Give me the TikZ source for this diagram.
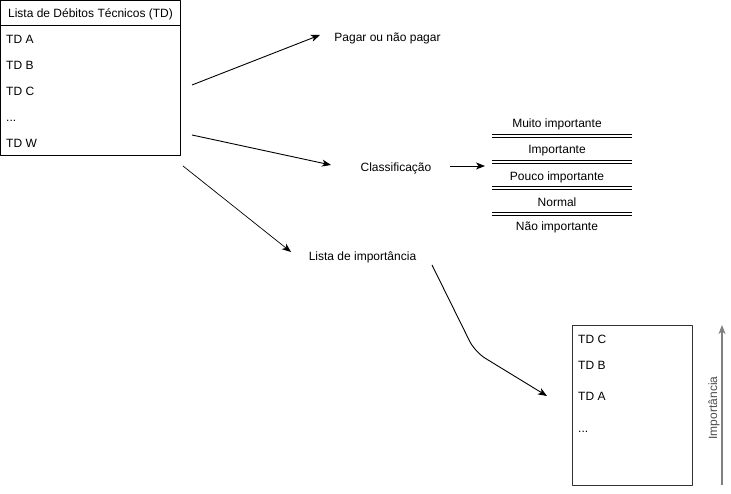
\documentclass[tikz,border=0pt]{standalone}
\usepackage{fontspec}
\setmainfont{Liberation Sans}
\usetikzlibrary{arrows.meta}
\begin{document}
\begin{tikzpicture}[>={Stealth[length=9bp,width=7bp,inset=2.5bp]},line join=bevel,x=1bp,y=1bp,
  txt/.style={inner sep=0pt,text height=12.5bp,text depth=2.5bp,font=\fontsize{12bp}{14bp}\selectfont},
  conn/.style={black,line width=0.9bp,->}]
\useasboundingbox (0,0) rectangle (731,494);
%%
\node (list_box) at (90.5,416.5) [draw,line width=0.9bp,minimum width=180bp,minimum height=155bp,inner sep=0pt] {};
  \draw [line width=0.9bp] (list_box.north west) ++(0,-26) -- ++(180,0);
  \node (list_head) at (90.5,481) [txt] {Lista de Débitos Técnicos (TD)};
  \node (td_a) at (6,455) [txt,anchor=west] {TD A};
  \node (td_b) at (6,429) [txt,anchor=west] {TD B};
  \node (td_c) at (6,403) [txt,anchor=west] {TD C};
  \node (td_dots) at (6,377) [txt,anchor=west] {...};
  \node (td_w) at (6,351) [txt,anchor=west] {TD W};
%%
\node (pay) at (387.5,457.5) [txt] {Pagar ou não pagar};
  \node (classif) at (396,327) [txt] {Classificação};
  \node (rank) at (362.5,238) [txt] {Lista de importância};
%%
\coordinate (pay_out) at (192,409);
  \coordinate (pay_in) at (320,459);
  \coordinate (classif_out) at (192,359);
  \coordinate (classif_in) at (331,329);
  \coordinate (rank_out) at (183,328);
  \coordinate (rank_in) at (291,242);
  \coordinate (stack_out) at (450,328);
  \coordinate (stack_in) at (485,328);
  \coordinate (sorted_out) at (432,229);
  \coordinate (sorted_bend) at (475,142);
  \coordinate (sorted_in) at (547,98);
  \draw [conn] (pay_out) -- (pay_in);
  \draw [conn] (classif_out) -- (classif_in);
  \draw [conn,line width=0.7bp] (rank_out) -- (rank_in);
  \draw [conn] (stack_out) -- (stack_in);
  \draw [conn,rounded corners=12bp] (sorted_out) -- (sorted_bend) -- (sorted_in);
%%
\node (lvl_1) at (557,371.5) [txt] {Muito importante};
  \node (lvl_2) at (557,345) [txt] {Importante};
  \node (lvl_3) at (557,318.5) [txt] {Pouco importante};
  \node (lvl_4) at (557,292) [txt] {Normal};
  \node (lvl_5) at (557,268.5) [txt] {Não importante};
  \foreach \y in {359.5,356.5,334,330.5,308,305,281.5,278.5}
    \draw [line width=0.9bp] (492,\y) -- (632,\y);
%%
\node (sorted_box) at (632,89) [draw=black!80,line width=0.9bp,minimum width=120bp,minimum height=160bp,inner sep=0pt] {};
  \node (sorted_c) at (578,155) [txt,anchor=west] {TD C};
  \node (sorted_b) at (578,129) [txt,anchor=west] {TD B};
  \node (sorted_a) at (578,98) [txt,anchor=west] {TD A};
  \node (sorted_dots) at (578,66) [txt,anchor=west] {...};
%%
\coordinate (imp_low) at (722,9);
  \coordinate (imp_high) at (722,169);
  \draw [gray,line width=1.3bp,->] (imp_low) -- (imp_high);
  \node (imp_label) at (712,86) [txt,rotate=90,text=black!70] {Importância};
%
\end{tikzpicture}
\end{document}
